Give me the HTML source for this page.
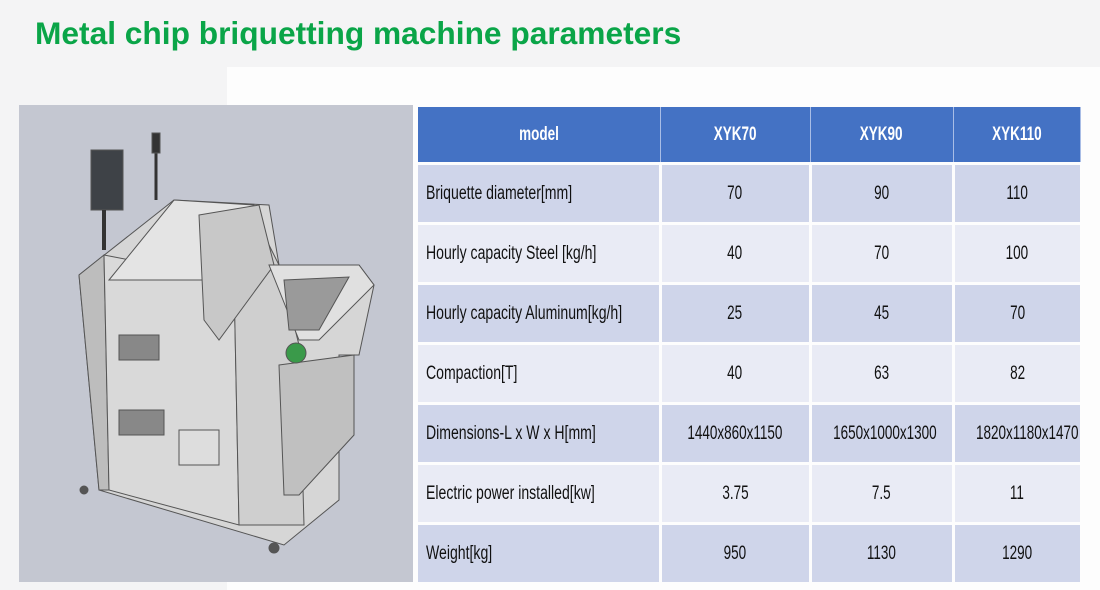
<!DOCTYPE html>
<html><head><meta charset="utf-8"><style>
html,body{margin:0;padding:0;}
body{width:1100px;height:590px;background:#f4f4f5;position:relative;overflow:hidden;font-family:"Liberation Sans",sans-serif;}
.panel{position:absolute;left:227px;top:67px;width:873px;height:523px;background:#fdfdfd;}
h1{position:absolute;left:35px;top:15px;margin:0;font-size:31.7px;color:#0aa548;font-weight:bold;letter-spacing:0;}
.img{position:absolute;left:19px;top:105px;width:394px;height:477px;background:#c4c7d1;}
table{position:absolute;left:418px;top:107px;border-collapse:collapse;table-layout:fixed;width:662px;}
td{padding:0;height:57px;border:3px solid #fdfdfd;border-top:0;border-left:0;font-size:19px;color:#111;text-align:center;overflow:visible;}
tr.h td{background:#4472c4;color:#fff;font-weight:bold;height:55px;border-right:1px solid #a9bde6;border-bottom:3px solid #fdfdfd;}
tr.a td{background:#cfd5ea;}
tr.b td{background:#e9ebf5;}
td span{display:inline-block;transform:scaleX(0.71);transform-origin:center;white-space:nowrap;}
td.l{text-align:left;}
td.l span{transform-origin:left;margin-left:8px;transform:scaleX(0.74);}
td:last-child{border-right:0;}
</style></head><body>
<div class="panel"></div>
<h1>Metal chip briquetting machine parameters</h1>
<div class="img">
<svg width="394" height="477" viewBox="0 0 394 477">
<g stroke="#555" stroke-width="1" fill="#d6d6d6">
<polygon points="60,170 155,95 250,100 260,160 340,160 355,180 340,250 320,250 320,395 265,440 80,385"/>
<polygon points="60,170 85,150 90,385 80,385" fill="#bdbdbd"/>
<polygon points="85,150 215,175 220,420 90,385" fill="#d9d9d9"/>
<polygon points="215,175 250,140 260,160 280,240 285,420 220,420" fill="#cfcfcf"/>
<polygon points="90,175 155,95 235,100 250,140 215,175" fill="#e4e4e4"/>
<polygon points="180,110 240,100 255,160 200,235 185,215" fill="#c8c8c8"/>
<polygon points="250,160 340,160 355,180 300,235 280,235" fill="#e0e0e0"/>
<polygon points="265,175 330,172 300,225 270,225" fill="#9a9a9a"/>
<polygon points="260,260 335,250 335,330 280,390 265,390" fill="#c0c0c0"/>
<rect x="72" y="45" width="32" height="60" fill="#3e4247"/>
<line x1="85" y1="105" x2="85" y2="145" stroke="#333" stroke-width="4"/>
<line x1="137" y1="30" x2="137" y2="95" stroke="#333" stroke-width="3"/>
<rect x="133" y="28" width="8" height="20" fill="#333"/>
<circle cx="277" cy="248" r="10" fill="#3a9a4a"/>
<rect x="100" y="230" width="40" height="25" fill="#888"/>
<rect x="100" y="305" width="45" height="25" fill="#888"/>
<rect x="160" y="325" width="40" height="35" fill="#ddd"/>
<circle cx="65" cy="385" r="4" fill="#555"/>
<circle cx="255" cy="443" r="5" fill="#555"/>
</g>
</svg>
</div>
<table>
<colgroup><col style="width:242px"><col style="width:150px"><col style="width:143px"><col style="width:127px"></colgroup>
<tr class="h"><td><span>model</span></td><td><span>XYK70</span></td><td><span>XYK90</span></td><td><span>XYK110</span></td></tr>
<tr class="a"><td class="l"><span>Briquette diameter[mm]</span></td><td><span>70</span></td><td><span>90</span></td><td><span>110</span></td></tr>
<tr class="b"><td class="l"><span>Hourly capacity Steel [kg/h]</span></td><td><span>40</span></td><td><span>70</span></td><td><span>100</span></td></tr>
<tr class="a"><td class="l"><span>Hourly capacity Aluminum[kg/h]</span></td><td><span>25</span></td><td><span>45</span></td><td><span>70</span></td></tr>
<tr class="b"><td class="l"><span>Compaction[T]</span></td><td><span>40</span></td><td><span>63</span></td><td><span>82</span></td></tr>
<tr class="a"><td class="l"><span>Dimensions-L x W x H[mm]</span></td><td><span>1440x860x1150</span></td><td><span>1650x1000x1300</span></td><td><span>1820x1180x1470</span></td></tr>
<tr class="b"><td class="l"><span>Electric power installed[kw]</span></td><td><span>3.75</span></td><td><span>7.5</span></td><td><span>11</span></td></tr>
<tr class="a"><td class="l"><span>Weight[kg]</span></td><td><span>950</span></td><td><span>1130</span></td><td><span>1290</span></td></tr>
</table>
</body></html>
